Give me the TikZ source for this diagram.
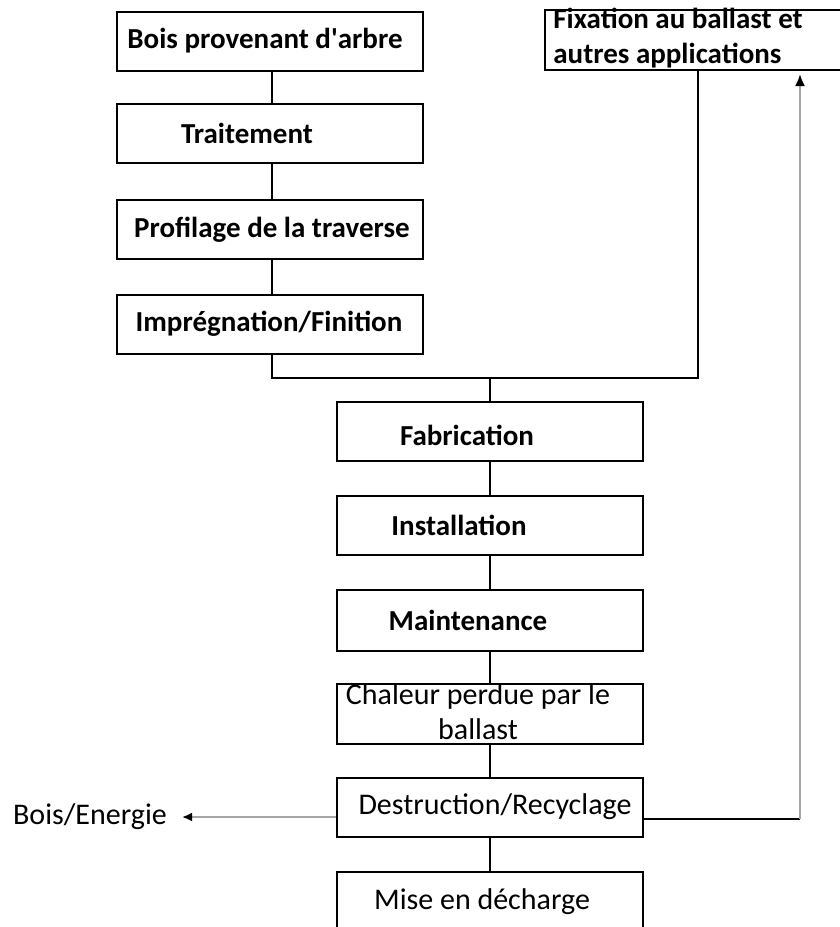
\documentclass[tikz,border=0pt]{standalone}
\usepackage{fontspec}
\setmainfont{Carlito}
\usetikzlibrary{arrows.meta}
\begin{document}
\begin{tikzpicture}[x=0.5pt,y=-0.5pt,
	box/.style={draw,line width=1pt,minimum width=153pt,minimum height=29.5pt,inner sep=0pt},
	lbl/.style={font=\fontsize{14.5}{17.5}\selectfont\bfseries,inner sep=0pt},
	lblr/.style={font=\fontsize{15}{17.5}\selectfont,inner sep=0pt},
	link/.style={line width=0.8pt},
	back/.style={line width=1.1pt,color=gray!70}]
			\useasboundingbox (0,0) rectangle (840,927);
			\clip (0,0) rectangle (840,927);
			% left column
			\node[box,label={[lbl,name=boisT,xshift=-2.5pt]center:Bois provenant d\textquotesingle arbre}] (bois) at (270,41) {};
			\node[box,label={[lbl,name=traitT,xshift=-11.5pt]center:Traitement}] (trait) at (270,133) {};
			\node[box,label={[lbl,name=profilT,xshift=1pt]center:Profilage de la traverse}] (profil) at (270,229.5) {};
			\node[box,label={[lbl,name=impregT,xshift=-0.5pt]center:Imprégnation/Finition}] (impreg) at (270,324) {};
			% applications
			\node[box,minimum width=157.5pt,minimum height=30pt] (fix) at (702.5,40) {};
			\node[lbl,align=left,anchor=north west] (fixT) at (553,8) {Fixation au ballast et\\autres applications};
			% middle column
			\node[box,label={[lbl,name=fabT,xshift=-11.5pt,yshift=-2pt]center:Fabrication}] (fab) at (490,431.5) {};
			\node[box,label={[lbl,name=instT,xshift=-15.5pt]center:Installation}] (inst) at (490,525.5) {};
			\node[box,minimum height=30.5pt,label={[lbl,name=maintT,xshift=-11pt]center:Maintenance}] (maint) at (490,620.5) {};
			\node[box,minimum height=30pt] (chal) at (490,714) {};
			\node[lblr,align=center] (chalT) at (478,712) {Chaleur perdue par le\\ballast};
			\node[box,label={[lblr,name=destrT,xshift=2.5pt]center:Destruction/Recyclage}] (destr) at (490,807) {};
			\node[box,minimum height=30pt,label={[lblr,name=miseT,xshift=-4pt]center:Mise en décharge}] (mise) at (490,902) {};
			\node[lblr] (energie) at (90,817) {Bois/Energie};
			% connectors
			\coordinate (j1) at (272,378);
			\coordinate (j2) at (490,378);
			\coordinate (j3) at (698,378);
			\coordinate (e1) at (182,817);
			\coordinate (r1) at (800,819);
			\coordinate (r2) at (800,74);
			\draw[link] (bois.south -| 272,0) -- (trait.north -| 272,0);
			\draw[link] (trait.south -| 272,0) -- (profil.north -| 272,0);
			\draw[link] (profil.south -| 272,0) -- (impreg.north -| 272,0);
			\draw[link] (impreg.south -| j1) -- (j1) -- (j3) -- (fix.south -| j3);
			\draw[link] (j2) -- (fab.north);
			\draw[link] (fab) -- (inst);
			\draw[link] (inst) -- (maint);
			\draw[link] (maint) -- (chal);
			\draw[link] (chal) -- (destr);
			\draw[link] (destr) -- (mise);
			\draw[back,-{Latex[length=5pt,width=4.5pt,color=black]}] (destr.west |- e1) -- (e1);
			\draw[link] (destr.east |- r1) -- (r1);
			\draw[back,-{Latex[length=6pt,width=5pt,color=black]}] (r1) -- (r2);
			\end{tikzpicture}
\end{document}
